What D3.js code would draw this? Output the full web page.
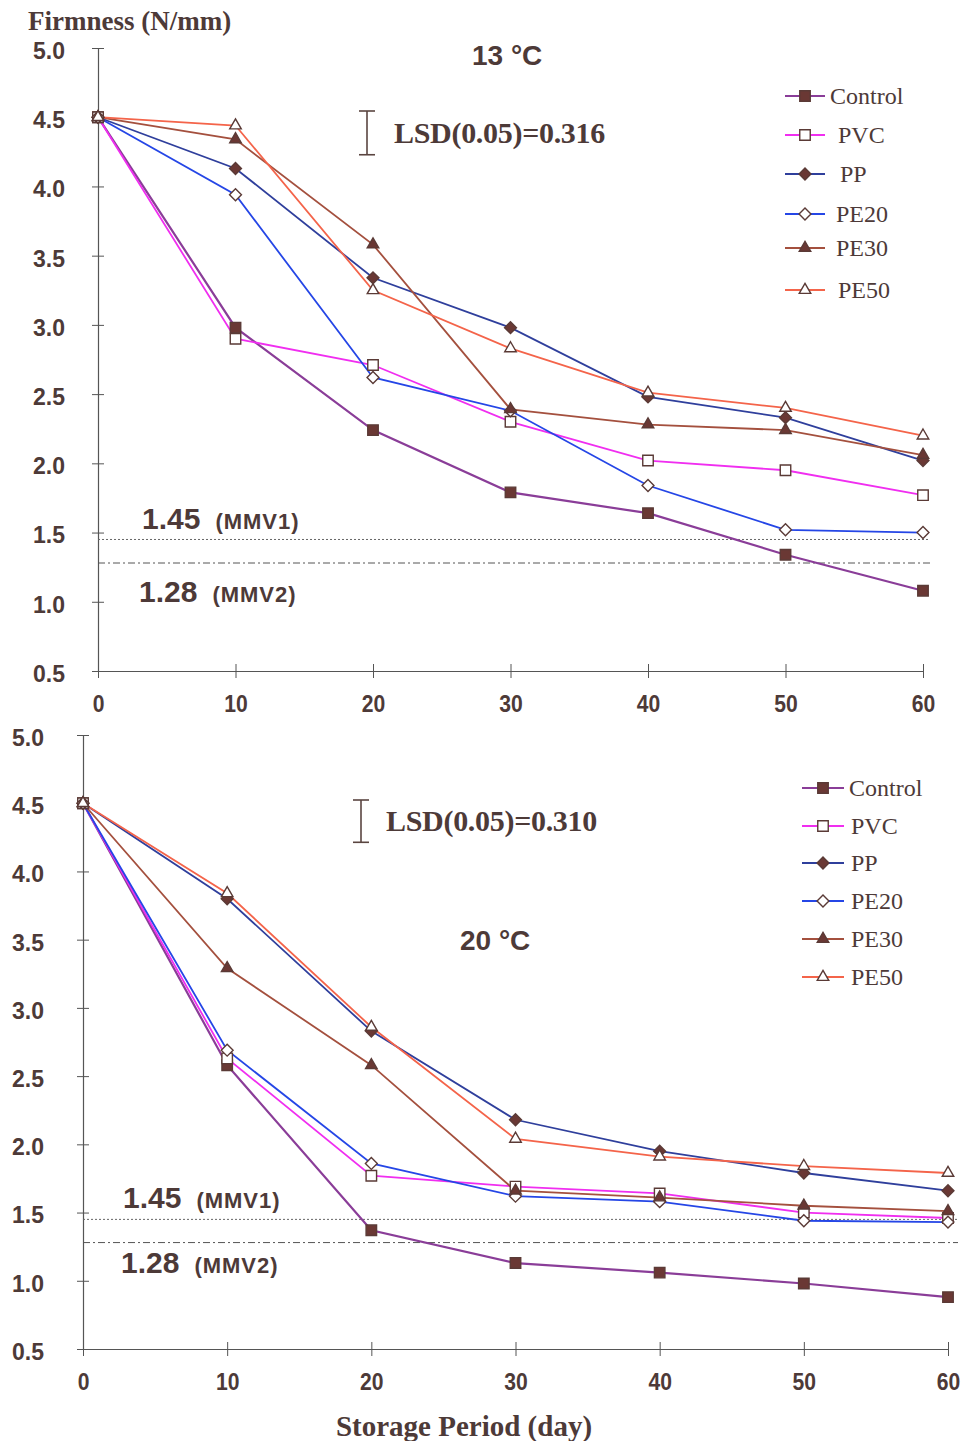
<!DOCTYPE html>
<html><head><meta charset="utf-8">
<script src="https://cdn.jsdelivr.net/npm/d3@7"></script>
<style>
body{margin:0;background:#fff;}
svg{display:block;}
</style></head>
<body><svg id="c" width="966" height="1441"></svg>
<script>
const days = [0, 10, 20, 30, 40, 50, 60];
const seriesNames = ["Control", "PVC", "PP", "PE20", "PE30", "PE50"];
const xTicks = [0, 10, 20, 30, 40, 50, 60];
const yTicks = [0.5, 1.0, 1.5, 2.0, 2.5, 3.0, 3.5, 4.0, 4.5, 5.0];
const mmvValues = [1.45, 1.28];
const mmvLabels = ["(MMV1)", "(MMV2)"];

// 13 °C
const control13 = [4.5, 2.98, 2.24, 1.79, 1.64, 1.34, 1.08];
const pvc13     = [4.5, 2.90, 2.71, 2.30, 2.02, 1.95, 1.77];
const pp13      = [4.5, 4.13, 3.34, 2.98, 2.48, 2.33, 2.02];
const pe20_13   = [4.5, 3.94, 2.62, 2.38, 1.84, 1.52, 1.50];
const pe30_13   = [4.5, 4.34, 3.58, 2.39, 2.28, 2.24, 2.06];
const pe50_13   = [4.5, 4.44, 3.25, 2.83, 2.51, 2.40, 2.20];
const lsd13 = 0.316;

// 20 °C
const control20 = [4.5, 2.58, 1.37, 1.13, 1.06, 0.98, 0.88];
const pvc20     = [4.5, 2.63, 1.77, 1.69, 1.64, 1.50, 1.46];
const pp20      = [4.5, 3.80, 2.83, 2.18, 1.95, 1.79, 1.66];
const pe20_20   = [4.5, 2.69, 1.86, 1.62, 1.58, 1.44, 1.43];
const pe30_20   = [4.5, 3.29, 2.58, 1.66, 1.61, 1.55, 1.51];
const pe50_20   = [4.5, 3.84, 2.86, 2.04, 1.91, 1.84, 1.79];
const lsd20 = 0.310;

const lineColors = ["#8a3d98", "#f02ef0", "#2f3f9c", "#2546e6", "#a4503e", "#f4644a"];
const markerTypes = ["squareF", "squareO", "diamondF", "diamondO", "triF", "triO"];
const markFill = "#6a3834";
const markStroke = "#5a3a36";
const textCol = "#4d3a38";

const svg = d3.select("#c");

function marker(g, type, x, y) {
  const filled = type.endsWith("F");
  let shape;
  if (type.startsWith("square")) shape = d3.symbolSquare;
  else if (type.startsWith("diamond")) shape = d3.symbolDiamond2;
  else shape = d3.symbolTriangle2;
  const size = type.startsWith("square") ? 110 : (type.startsWith("diamond") ? 90 : 95);
  g.append("path")
    .attr("d", d3.symbol().type(shape).size(size)())
    .attr("transform", `translate(${x},${y})`)
    .attr("fill", filled ? markFill : "#fff")
    .attr("stroke", markStroke)
    .attr("stroke-width", 1.4);
}

function panel(cfg) {
  const g = svg.append("g");
  const x = d3.scaleLinear().domain([0, 60]).range([cfg.x0, cfg.x1]);
  const y = d3.scaleLinear().domain([0.5, 5.0]).range([cfg.y0, cfg.y1]);

  // axes
  const yAx = d3.axisLeft(y).tickValues(yTicks).tickSize(0).tickFormat(d3.format(".1f")).tickPadding(cfg.yPad);
  const ya = g.append("g").attr("transform", `translate(${cfg.x0},0)`).call(yAx);
  ya.select(".domain").attr("stroke", "#555").attr("stroke-width", 1.2);
  ya.selectAll("text").attr("font-family", "Liberation Sans, Arial, sans-serif")
    .attr("font-weight", "bold").attr("font-size", 23).attr("fill", textCol)
    .attr("dy", "0.45em");
  ya.selectAll(".tick").append("line").attr("x1", -6).attr("x2", 6).attr("stroke", "#555").attr("stroke-width", 1);

  const xAx = d3.axisBottom(x).tickValues(xTicks).tickSize(0).tickFormat(d3.format("d")).tickPadding(cfg.xPad);
  const xa = g.append("g").attr("transform", `translate(0,${cfg.y0})`).call(xAx);
  xa.select(".domain").attr("stroke", "#555").attr("stroke-width", 1.2);
  xa.selectAll("text").attr("font-family", "Liberation Sans Narrow, Liberation Sans, Arial, sans-serif")
    .attr("font-weight", "bold").attr("font-size", 24).attr("fill", textCol)
    .attr("transform", "scale(0.88,1)");
  xa.selectAll(".tick").append("line").attr("y1", -7).attr("y2", 7).attr("stroke", "#555").attr("stroke-width", 1);

  // MMV lines
  g.append("line").attr("x1", cfg.x0).attr("x2", cfg.mmvEnd)
    .attr("y1", y(mmvValues[0])).attr("y2", y(mmvValues[0]))
    .attr("stroke", "#666").attr("stroke-width", 1).attr("stroke-dasharray", "2,2");
  g.append("line").attr("x1", cfg.x0).attr("x2", cfg.mmvEnd)
    .attr("y1", y(mmvValues[1])).attr("y2", y(mmvValues[1]))
    .attr("stroke", "#555").attr("stroke-width", 1).attr("stroke-dasharray", "7,3,2,3");

  cfg.mmvPos.forEach((p, i) => {
    const t = g.append("text").attr("x", p[0]).attr("y", p[1])
      .attr("font-family", "Liberation Sans, Arial, sans-serif").attr("font-weight", "bold").attr("fill", textCol);
    t.append("tspan").attr("font-size", 30).text(mmvValues[i].toFixed(2));
    t.append("tspan").attr("font-size", 22).attr("dx", 15).attr("letter-spacing", 1).text(mmvLabels[i]);
  });

  // series lines
  cfg.data.forEach((vals, i) => {
    const line = d3.line().x((d, j) => x(days[j])).y(d => y(d));
    g.append("path").attr("d", line(vals)).attr("fill", "none")
      .attr("stroke", lineColors[i]).attr("stroke-width", i === 0 ? 2.2 : 1.8);
  });
  cfg.data.forEach((vals, i) => {
    vals.forEach((v, j) => marker(g, markerTypes[i], x(days[j]), y(v)));
  });

  // LSD bar
  const lx = cfg.lsdX, ltop = cfg.lsdTop;
  const lh = y(5.0 - cfg.lsd) - y(5.0);
  g.append("line").attr("x1", lx).attr("x2", lx).attr("y1", ltop).attr("y2", ltop + lh).attr("stroke", "#5a4540").attr("stroke-width", 1.6);
  g.append("line").attr("x1", lx - 8).attr("x2", lx + 8).attr("y1", ltop).attr("y2", ltop).attr("stroke", "#5a4540").attr("stroke-width", 1.6);
  g.append("line").attr("x1", lx - 8).attr("x2", lx + 8).attr("y1", ltop + lh).attr("y2", ltop + lh).attr("stroke", "#5a4540").attr("stroke-width", 1.6);
  g.append("text").attr("x", cfg.lsdTextX).attr("y", ltop + lh / 2 + 10)
    .attr("font-family", "Liberation Serif, Times New Roman, serif").attr("font-weight", "bold")
    .attr("font-size", 30).attr("fill", textCol).attr("letter-spacing", -0.3)
    .text("LSD(0.05)=" + cfg.lsd.toFixed(3));

  // temperature label
  g.append("text").attr("x", cfg.tempPos[0]).attr("y", cfg.tempPos[1])
    .attr("font-family", "Liberation Sans, Arial, sans-serif").attr("font-weight", "bold")
    .attr("font-size", 28).attr("fill", textCol).text(cfg.temp);

  // legend
  seriesNames.forEach((name, i) => {
    const ly = cfg.legY[i];
    g.append("line").attr("x1", cfg.legX).attr("x2", cfg.legX + cfg.legW).attr("y1", ly).attr("y2", ly)
      .attr("stroke", lineColors[i]).attr("stroke-width", 1.8);
    marker(g, markerTypes[i], cfg.legX + cfg.legW / 2, ly);
    g.append("text").attr("x", cfg.legTextX[i]).attr("y", ly + 8)
      .attr("font-family", "Liberation Serif, Times New Roman, serif")
      .attr("font-size", 24).attr("fill", textCol).text(name);
  });
}

panel({
  x0: 98, x1: 923, y0: 671, y1: 48, yPad: 33, xPad: 24, mmvEnd: 930,
  data: [control13, pvc13, pp13, pe20_13, pe30_13, pe50_13],
  mmvPos: [[142, 529], [139, 602]],
  lsd: lsd13, lsdX: 367, lsdTop: 111, lsdTextX: 394,
  temp: "13 °C", tempPos: [472, 65],
  legX: 785, legW: 40, legY: [96, 135, 174, 214, 248, 290],
  legTextX: [830, 838, 840, 836, 836, 838]
});

panel({
  x0: 83, x1: 948, y0: 1349, y1: 735, yPad: 39, xPad: 24, mmvEnd: 958,
  data: [control20, pvc20, pp20, pe20_20, pe30_20, pe50_20],
  mmvPos: [[123, 1208], [121, 1273]],
  lsd: lsd20, lsdX: 361, lsdTop: 800, lsdTextX: 386,
  temp: "20 °C", tempPos: [460, 950],
  legX: 802, legW: 42, legY: [788, 826, 863, 901, 939, 977],
  legTextX: [849, 851, 851, 851, 851, 851]
});

svg.append("text").attr("x", 28).attr("y", 30)
  .attr("font-family", "Liberation Serif, Times New Roman, serif").attr("font-weight", "bold")
  .attr("font-size", 27).attr("fill", textCol).text("Firmness (N/mm)");
svg.append("text").attr("x", 464).attr("y", 1436).attr("text-anchor", "middle")
  .attr("font-family", "Liberation Serif, Times New Roman, serif").attr("font-weight", "bold")
  .attr("font-size", 29).attr("fill", textCol).text("Storage Period (day)");
</script></body></html>
